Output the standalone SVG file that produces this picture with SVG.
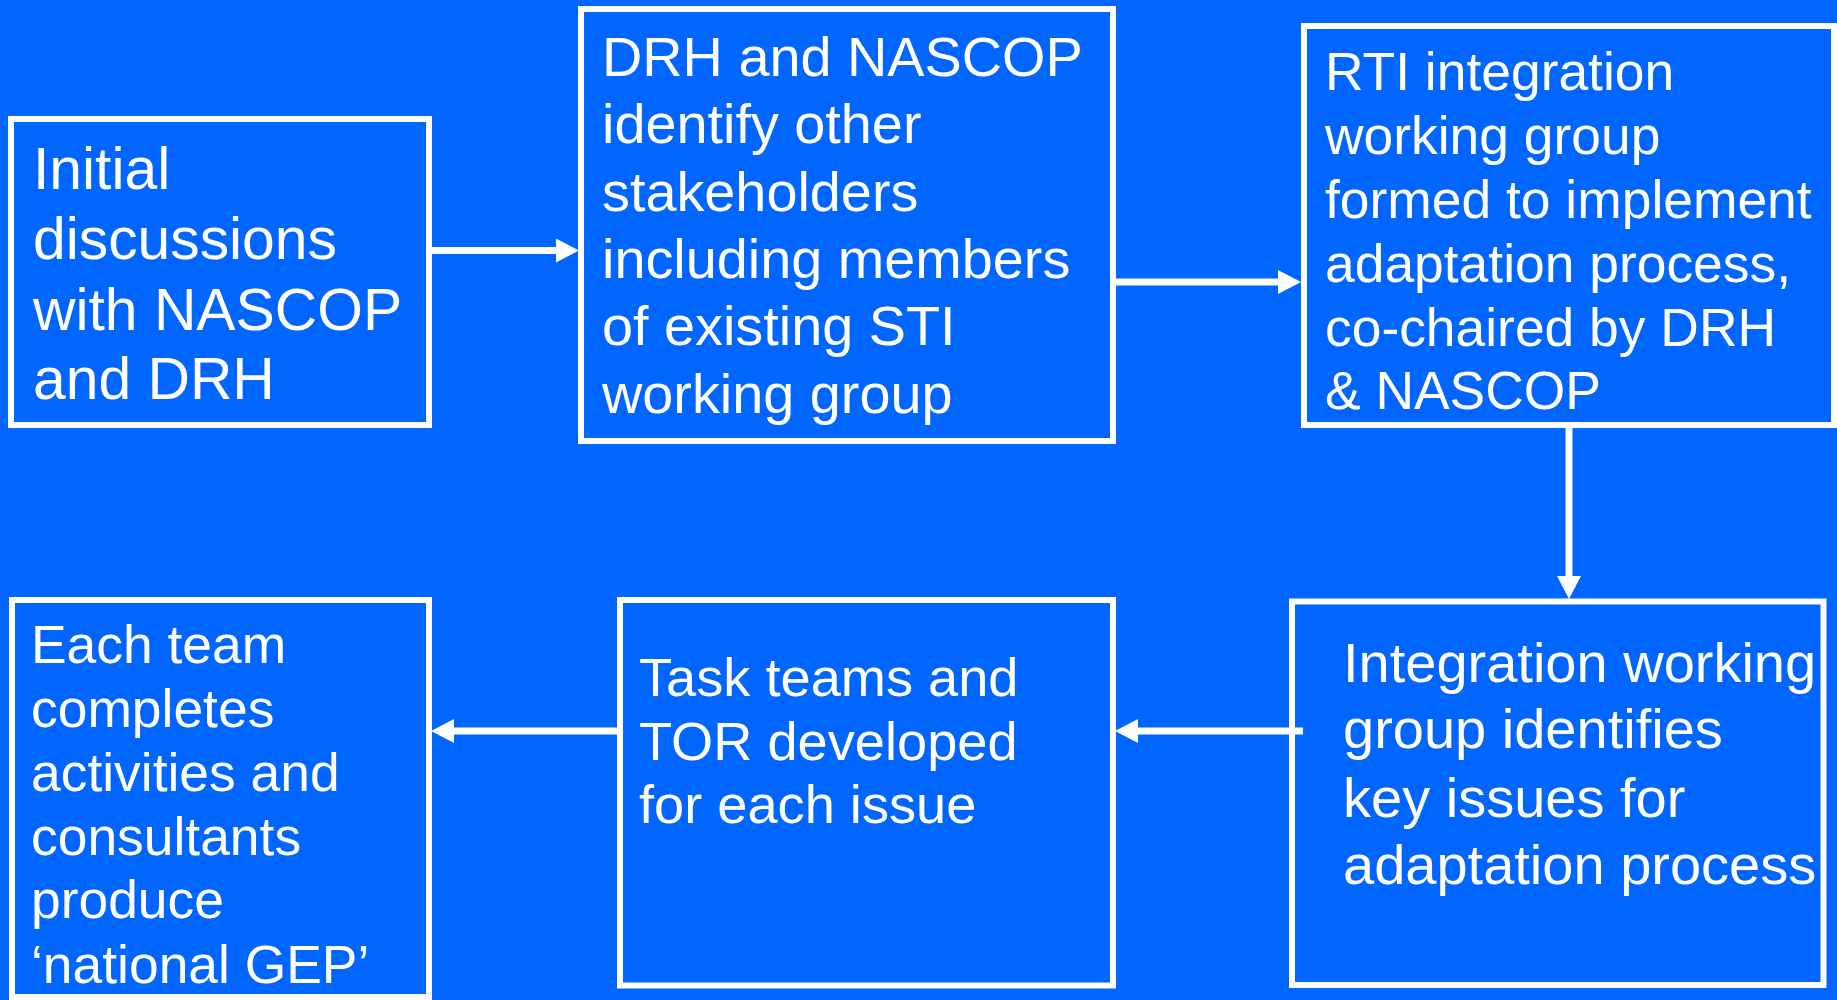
<svg xmlns="http://www.w3.org/2000/svg" width="1837" height="1000" viewBox="0 0 1837 1000">
<defs>
<style>
.box{fill:none;stroke:#FFFFFF;stroke-width:6}
.t{font-family:"Liberation Sans",Arial,sans-serif;fill:#FFFFFF}
.conn{stroke:#FFFFFF;stroke-width:7;fill:none}
</style>
<marker id="ah" markerUnits="userSpaceOnUse" markerWidth="23" markerHeight="24" viewBox="0 0 23 24" refX="0" refY="12" orient="auto">
<path d="M0,0 L23,12 L0,24 Z" fill="#FFFFFF"/>
</marker>
</defs>
<rect x="0" y="0" width="1837" height="1000" fill="#0066FF"/>
<g id="connectors">
<line class="conn" x1="432" y1="250.5" x2="556" y2="250.5" marker-end="url(#ah)"/>
<line class="conn" x1="1116" y1="282" x2="1278" y2="282" marker-end="url(#ah)"/>
<line class="conn" x1="1569" y1="428" x2="1569" y2="576" marker-end="url(#ah)"/>
<line class="conn" x1="1303" y1="731" x2="1138" y2="731" marker-end="url(#ah)"/>
<line class="conn" x1="617" y1="731" x2="454" y2="731" marker-end="url(#ah)"/>
</g>
<g id="node1">
<rect class="box" x="11" y="119" width="418" height="306"/>
<text class="t" font-size="58.8">
<tspan x="33" y="189">Initial</tspan>
<tspan x="33" y="259.3">discussions</tspan>
<tspan x="33" y="330">with NASCOP</tspan>
<tspan x="33" y="399.3">and DRH</tspan>
</text>
</g>
<g id="node2">
<rect class="box" x="581" y="9" width="532" height="432"/>
<text class="t" font-size="55.8">
<tspan x="602" y="76">DRH and NASCOP</tspan>
<tspan x="602" y="143.3">identify other</tspan>
<tspan x="602" y="210.7">stakeholders</tspan>
<tspan x="602" y="277.7">including members</tspan>
<tspan x="602" y="345.3">of existing STI</tspan>
<tspan x="602" y="413.3">working group</tspan>
</text>
</g>
<g id="node3">
<rect class="box" x="1304" y="26" width="530" height="399"/>
<text class="t" font-size="53.4">
<tspan x="1325" y="90">RTI integration</tspan>
<tspan x="1325" y="154">working group</tspan>
<tspan x="1325" y="218.3">formed to implement</tspan>
<tspan x="1325" y="282.3">adaptation process,</tspan>
<tspan x="1325" y="345.7">co-chaired by DRH</tspan>
<tspan x="1325" y="409.3">&amp; NASCOP</tspan>
</text>
</g>
<g id="node4">
<rect class="box" x="1292" y="601.5" width="531.5" height="383.5"/>
<text class="t" font-size="56">
<tspan x="1343" y="681.9">Integration working</tspan>
<tspan x="1343" y="748.2">group identifies</tspan>
<tspan x="1343" y="816.6">key issues for</tspan>
<tspan x="1343" y="883.6">adaptation process</tspan>
</text>
</g>
<g id="node5">
<rect class="box" x="620" y="600" width="493" height="385.5"/>
<text class="t" font-size="54.2">
<tspan x="639" y="695.7">Task teams and</tspan>
<tspan x="639" y="760">TOR developed</tspan>
<tspan x="639" y="823.3">for each issue</tspan>
</text>
</g>
<g id="node6">
<rect class="box" x="12" y="600" width="417" height="397"/>
<text class="t" font-size="53.4">
<tspan x="31" y="663.3">Each team</tspan>
<tspan x="31" y="726.7">completes</tspan>
<tspan x="31" y="791">activities and</tspan>
<tspan x="31" y="855">consultants</tspan>
<tspan x="31" y="918.3">produce</tspan>
<tspan x="31" y="982.7">‘national GEP’</tspan>
</text>
</g>
</svg>
